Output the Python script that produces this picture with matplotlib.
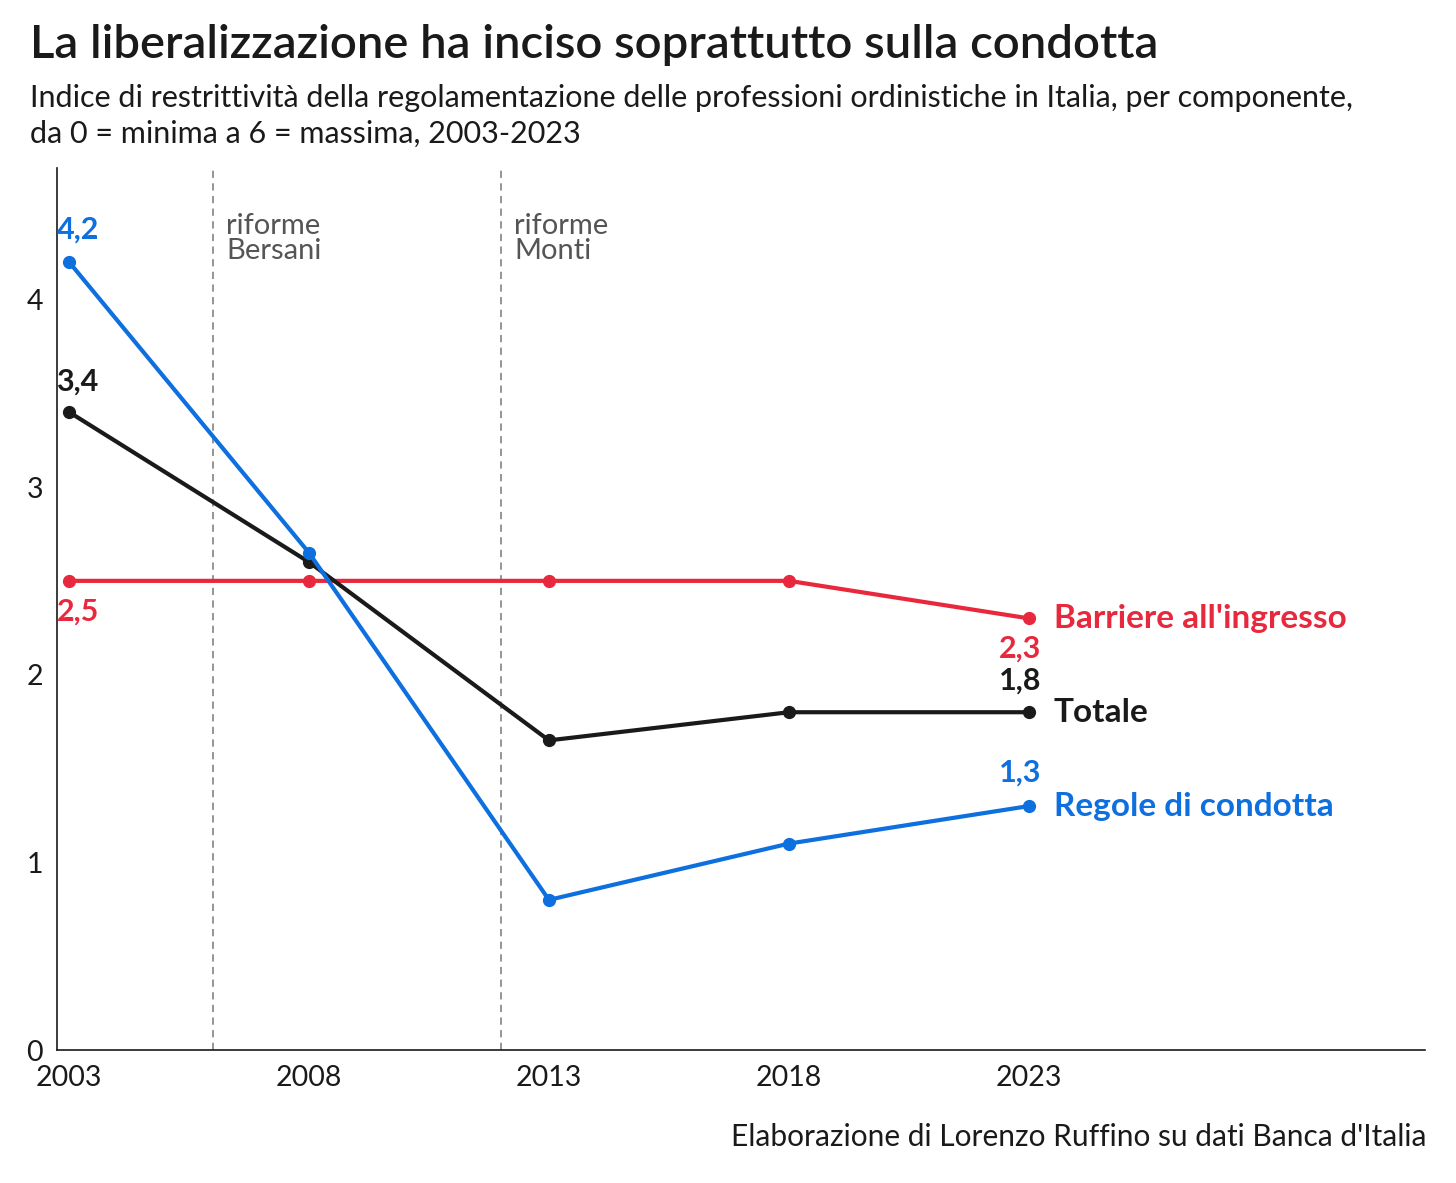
import matplotlib.pyplot as plt

plt.rcParams['font.family'] = ['Lato', 'DejaVu Sans']

# -----------------------------
# Data
# -----------------------------
years = [2003, 2008, 2013, 2018, 2023]
barriere = [2.5, 2.5, 2.5, 2.5, 2.3]
totale = [3.4, 2.6, 1.65, 1.8, 1.8]
condotta = [4.2, 2.65, 0.8, 1.1, 1.3]

series_names = ["Barriere all'ingresso", "Totale", "Regole di condotta"]
series_colors = ["#E8283C", "#1A1A1A", "#0E6FDF"]

reform_years = [2006, 2012]
reform_labels = ["riforme\nBersani", "riforme\nMonti"]

y_ticks = [0, 1, 2, 3, 4]
x_ticks = years

# label offsets (points) for first / last value: + above, - below
first_offset = [-22, 22, 23]
last_offset = [-22, 23, 24]

# -----------------------------
# Figure
# -----------------------------
fig = plt.figure(figsize=(14.56, 11.83), dpi=100)
ax = fig.add_axes([0.0391, 0.1124, 0.9396, 0.7456])

for vals, name, col, fo, lo in zip([barriere, totale, condotta], series_names,
                                   series_colors, first_offset, last_offset):
    ax.plot(years, vals, color=col, lw=3, marker="o", ms=8.5, zorder=3,
            solid_capstyle="round")
    ax.annotate(f"{vals[0]:.1f}".replace(".", ","), (years[0], vals[0]),
                xytext=(-9, fo), textcoords="offset points", ha="left",
                va="center", color=col, fontsize=22, fontweight="bold")
    ax.annotate(f"{vals[-1]:.1f}".replace(".", ","), (years[-1], vals[-1]),
                xytext=(9, lo), textcoords="offset points", ha="right",
                va="center", color=col, fontsize=22, fontweight="bold")
    ax.annotate(name, (years[-1], vals[-1]), xytext=(18, 0),
                textcoords="offset points", ha="left", va="center",
                color=col, fontsize=24, fontweight="bold")

for yr, lab in zip(reform_years, reform_labels):
    ax.axvline(yr, color="#8C8C8C", lw=1.3, ls=(0, (4, 3)), zorder=1)
    ax.text(yr + 0.27, 4.46, lab, ha="left", va="top", color="#555555",
            fontsize=21, linespacing=0.97)

ax.set_xlim(2002.75, 2031.25)
ax.set_ylim(0, 4.7)
ax.set_xticks(x_ticks)
ax.set_yticks(y_ticks)
ax.tick_params(length=0, labelsize=20.5, colors="#1A1A1A")
ax.tick_params(axis="x", pad=11)
ax.tick_params(axis="y", pad=10)
ax.spines["top"].set_visible(False)
ax.spines["right"].set_visible(False)
for s in ["left", "bottom"]:
    ax.spines[s].set_linewidth(1.2)
    ax.spines[s].set_color("#1A1A1A")

fig.text(0.0206, 0.962, "La liberalizzazione ha inciso soprattutto sulla condotta",
         fontsize=34, fontweight="semibold", color="#1A1A1A", va="center")
fig.text(0.0206, 0.929, "Indice di restrittività della regolamentazione delle professioni "
         "ordinistiche in Italia, per componente,\nda 0 = minima a 6 = massima, 2003-2023",
         fontsize=22, color="#1A1A1A", va="top", linespacing=1.32)
fig.text(0.980, 0.039, "Elaborazione di Lorenzo Ruffino su dati Banca d'Italia",
         fontsize=21.5, color="#1A1A1A", ha="right", va="center")

fig.savefig("out.png", dpi=100)
